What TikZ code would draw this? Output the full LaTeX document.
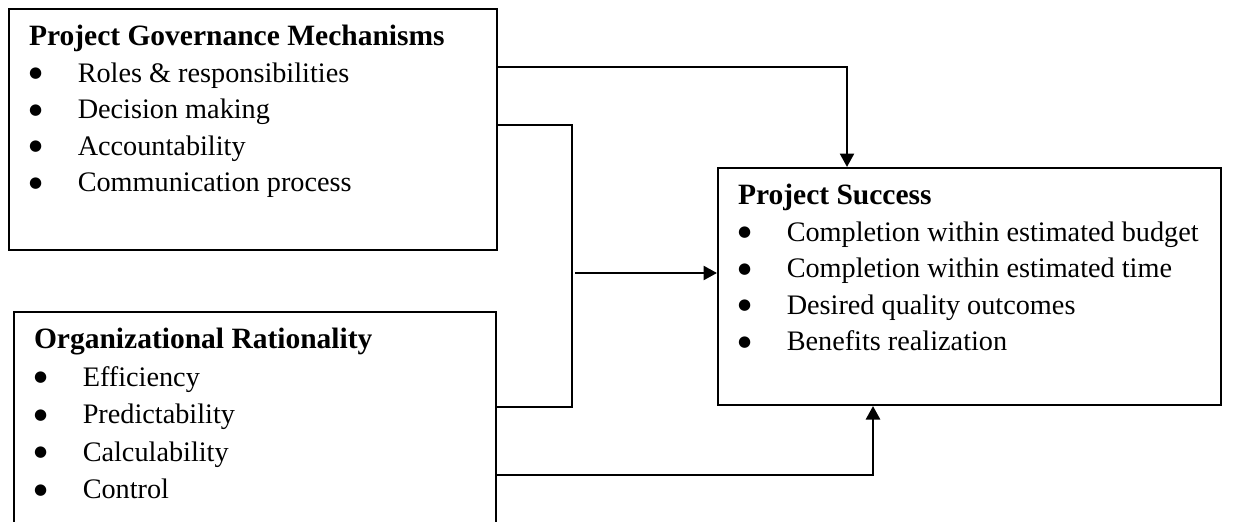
\documentclass[tikz,border=0pt]{standalone}
\usepackage{fontspec}
\setmainfont{Liberation Serif}
\newfontfamily\dotfont{DejaVu Sans}
\usetikzlibrary{positioning,arrows.meta}

\newcommand{\boxhead}[1]{{\fontsize{11.8}{14.6}\selectfont\bfseries #1}\par}
\newcommand{\bitem}[1]{\makebox[19.5pt][l]{\raisebox{1.8pt}{\dotfont\fontsize{6}{6}\selectfont ●}}#1\par}
\newcommand{\boxbody}[3]{\parbox[c][#2][t]{#1}{\leftskip=8pt\parindent=0pt\vspace*{6.5pt}#3}}

\begin{document}
\begin{tikzpicture}[x=0.4pt, y=-0.4pt, >={Triangle[length=5.4pt,width=5.6pt]},
  box/.style={draw, line width=0.8pt, anchor=north west, inner sep=0pt, font=\fontsize{11.3}{14.6}\selectfont},
  link/.style={line width=1pt}]
\useasboundingbox (0,0) rectangle (1245,521);
\clip (0,0) rectangle (1245,521);

\node[box] (gov)  at (8,8)     {\boxbody{195.2pt}{96.4pt}{\boxhead{Project Governance Mechanisms}
  \bitem{Roles \& responsibilities}\bitem{Decision making}\bitem{Accountability}\bitem{Communication process}}};
\node[box, font=\fontsize{11.3}{15}\selectfont] (rat) at (13,311) {\boxbody{192.8pt}{96pt}{\boxhead{Organizational Rationality}
  \bitem{Efficiency}\bitem{Predictability}\bitem{Calculability}\bitem{Control}}};
\node[box] (succ) at (717,167) {\boxbody{201.2pt}{94.8pt}{\boxhead{Project Success}
  \bitem{Completion within estimated budget}\bitem{Completion within estimated time}
  \bitem{Desired quality outcomes}\bitem{Benefits realization}}};

\coordinate (top feed) at (847,67);
\coordinate (brk top)  at (572,125);
\coordinate (brk bot)  at (572,407);
\coordinate (mid feed) at (575,273);
\coordinate (low feed) at (873,475);

\draw[link, ->] (gov.east |- top feed) -| (succ.north -| top feed);
\draw[link] (gov.east |- brk top) -- (brk top) -- (brk bot) -- (rat.east |- brk bot);
\draw[link, ->] (mid feed) -- (succ.west |- mid feed);
\draw[link, ->] (rat.east |- low feed) -| (succ.south -| low feed);

\end{tikzpicture}
\end{document}
